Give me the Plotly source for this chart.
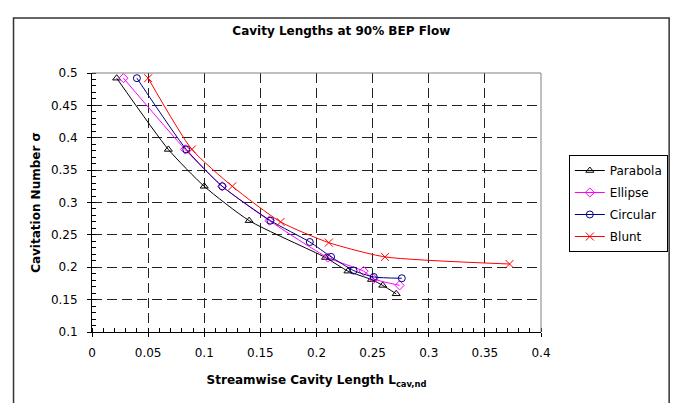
import plotly.graph_objects as go

# Data
parabola_x = [0.022, 0.068, 0.100, 0.140, 0.208, 0.228, 0.249, 0.259, 0.271]
parabola_y = [0.492, 0.382, 0.325, 0.272, 0.215, 0.194, 0.181, 0.172, 0.159]

ellipse_x = [0.028, 0.083, 0.116, 0.158, 0.210, 0.242, 0.251, 0.274]
ellipse_y = [0.492, 0.382, 0.325, 0.272, 0.215, 0.194, 0.182, 0.172]

circular_x = [0.040, 0.084, 0.116, 0.159, 0.194, 0.213, 0.233, 0.251, 0.276]
circular_y = [0.492, 0.382, 0.325, 0.272, 0.239, 0.216, 0.195, 0.185, 0.183]

blunt_x = [0.050, 0.089, 0.125, 0.168, 0.211, 0.261, 0.372]
blunt_y = [0.492, 0.382, 0.325, 0.270, 0.238, 0.216, 0.205]

x_ticks = [0, 0.05, 0.1, 0.15, 0.2, 0.25, 0.3, 0.35, 0.4]
x_tick_labels = ["0", "0.05", "0.1", "0.15", "0.2", "0.25", "0.3", "0.35", "0.4"]
y_ticks = [0.1, 0.15, 0.2, 0.25, 0.3, 0.35, 0.4, 0.45, 0.5]
y_tick_labels = ["0.1", "0.15", "0.2", "0.25", "0.3", "0.35", "0.4", "0.45", "0.5"]

FONT = "DejaVu Sans"

series = [
    ("Parabola", parabola_x, parabola_y, "#000000", "triangle-up-open", 7),
    ("Ellipse", ellipse_x, ellipse_y, "#FF00FF", "diamond-open", 7),
    ("Circular", circular_x, circular_y, "#000080", "circle-open", 7),
    ("Blunt", blunt_x, blunt_y, "#FF0000", "x-thin-open", 8),
]

fig = go.Figure()
for name, xs, ys, color, sym, size in series:
    fig.add_trace(go.Scatter(
        x=xs, y=ys, name=name, mode="lines+markers",
        line=dict(color=color, width=1, shape="spline", smoothing=0.6),
        marker=dict(symbol=sym, size=size, color=color, line=dict(color=color, width=1)),
        legendgroup=name,
    ))

fig.update_layout(
    width=680, height=403,
    margin=dict(l=92, r=136, t=73, b=71),
    paper_bgcolor="white", plot_bgcolor="white",
    font=dict(family=FONT, size=12, color="black"),
    title=dict(text="<b>Cavity Lengths at 90% BEP Flow</b>", font=dict(family=FONT, size=12),
               x=(343 - 92) / 452, xref="paper", xanchor="center",
               y=1 - 31 / 403, yref="container", yanchor="middle"),
    legend=dict(x=(572 - 92) / 452, y=(332 - 155) / 259, xanchor="left", yanchor="top",
                bordercolor="black", borderwidth=1, bgcolor="white",
                font=dict(family=FONT, size=12), tracegroupgap=3),
    showlegend=True,
)

fig.update_xaxes(
    range=[0, 0.4], tickvals=x_ticks, ticktext=x_tick_labels,
    showline=True, linecolor="black", linewidth=1,
    ticks="outside", ticklen=4, tickcolor="black", ticklabelstandoff=6,
    minor=dict(dtick=0.01, ticks="inside", ticklen=4, tickcolor="black", showgrid=False),
    showgrid=True, gridcolor="#222222", gridwidth=1, griddash="10px,5px",
    zeroline=False,
    title=dict(text="<b>Streamwise Cavity Length L<sub>cav,nd</sub></b>", font=dict(family=FONT, size=12), standoff=16),
)
fig.update_yaxes(
    range=[0.1, 0.5], tickvals=y_ticks, ticktext=y_tick_labels,
    showline=True, linecolor="black", linewidth=1,
    ticks="outside", ticklen=4, tickcolor="black", ticklabelstandoff=7,
    minor=dict(dtick=0.01, ticks="inside", ticklen=4, tickcolor="black", showgrid=False),
    showgrid=True, gridcolor="#222222", gridwidth=1, griddash="10px,5px",
    zeroline=False,
    title=dict(text="<b>Cavitation Number σ</b>", font=dict(family=FONT, size=12), standoff=7),
)

# plot-area border (top and right, gray)
fig.add_shape(type="line", xref="paper", yref="paper", x0=0, x1=1, y0=1, y1=1,
              line=dict(color="#808080", width=1), layer="above")
fig.add_shape(type="line", xref="paper", yref="paper", x0=1, x1=1, y0=0, y1=1,
              line=dict(color="#808080", width=1), layer="above")
# outer chart frame
fig.add_shape(type="rect", xref="paper", yref="paper",
              x0=(13 - 92) / 452, x1=(673 - 92) / 452,
              y0=(332 - 410) / 259, y1=(332 - 18) / 259,
              line=dict(color="#333333", width=1.5), layer="below")

fig.write_html("out.html")
